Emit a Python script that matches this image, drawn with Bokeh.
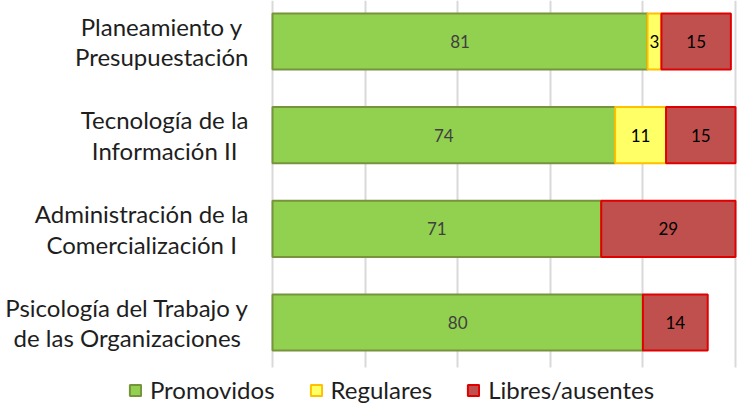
import subprocess
from bokeh.plotting import figure
from bokeh.models import Range1d, ColumnDataSource, Legend, LegendItem, FixedTicker, Grid
from bokeh.embed import file_html
from bokeh.resources import INLINE
from bokeh.core.properties import value

categories = ["Planeamiento y\nPresupuestación",
              "Tecnología de la\nInformación II",
              "Administración de la\nComercialización I",
              "Psicología del Trabajo y\nde las Organizaciones"]
promovidos = [81, 74, 71, 80]
regulares = [3, 11, 0, 0]
libres = [15, 15, 29, 14]
series_names = ["Promovidos", "Regulares", "Libres/ausentes"]
x_ticks = [0, 20, 40, 60, 80, 100]

FONT = "Lato"
CAT_SIZE = 24
LEG_SIZE = 24
VAL_SIZE = 17

W, H = 737, 404
X0 = 272          # pixel of value 0
XS = 4.63         # px per unit
YS = 93.67        # px per category
TOP_C = 41        # px of first category centre
GRID_BOTTOM = 367


def text_width(s, size, family):
    try:
        from PIL import ImageFont
        path = subprocess.run(["fc-match", "-f", "%{file}", family],
                              capture_output=True, text=True).stdout.strip()
        f = ImageFont.truetype(path, size)
        return max(f.getlength(line) for line in s.split("\n"))
    except Exception:
        return max(len(line) for line in s.split("\n")) * size * 0.5


n = len(categories)
ypos = [n - 1 - i for i in range(n)]
y_top = n - 1 + TOP_C / YS
y_bot = y_top - H / YS

p = figure(width=W, height=H, output_backend="svg", toolbar_location=None,
           x_range=Range1d(-X0 / XS, (W - X0) / XS), y_range=Range1d(y_bot, y_top),
           min_border=0)
p.outline_line_color = None
p.xaxis.visible = False
p.yaxis.visible = False
p.xgrid.visible = False
p.ygrid.visible = False

grid = Grid(dimension=0, ticker=FixedTicker(ticks=x_ticks),
            grid_line_color="#d9d9d9", grid_line_width=2)
grid_y0 = y_top - GRID_BOTTOM / YS
if "cross_bounds" in Grid.properties():
    grid.cross_bounds = (grid_y0, y_top)
    p.add_layout(grid)
else:
    p.segment(x0=x_ticks, x1=x_ticks, y0=[grid_y0] * len(x_ticks),
              y1=[y_top] * len(x_ticks), line_color="#d9d9d9", line_width=2)

# category labels (block right-aligned, lines centred)
offs = [-(24 + text_width(c, CAT_SIZE, FONT) / 2) for c in categories]
p.text(x=[0] * n, y=ypos, text=categories, x_offset=offs, text_align="center",
       text_baseline="middle", text_font=value(FONT),
       text_font_size=f"{CAT_SIZE}px", text_color="#1e1e1e", text_line_height=1.05)

fills = ["#92d050", "#ffff66", "#c0504d"]
lines = ["#77933c", "#ffc000", "#e00000"]
label_colors = ["#404040", "#000000", "#000000"]
series = [promovidos, regulares, libres]

items = []
left = [0] * n
for name, vals, fc, lc, tc in zip(series_names, series, fills, lines, label_colors):
    rows = [i for i in range(n) if vals[i] > 0]
    src = ColumnDataSource(dict(
        y=[ypos[i] for i in rows],
        left=[left[i] for i in rows],
        right=[left[i] + vals[i] for i in rows],
        mid=[left[i] + vals[i] / 2 for i in rows],
        txt=[str(vals[i]) for i in rows],
    ))
    r = p.hbar(y="y", left="left", right="right", height=0.6, source=src,
               fill_color=fc, line_color=lc, line_width=2)
    p.text(x="mid", y="y", text="txt", source=src, text_align="center",
           text_baseline="middle", text_font=value(FONT),
           text_font_size=f"{VAL_SIZE}px", text_color=tc)
    items.append(LegendItem(label=name, renderers=[r]))
    left = [left[i] + vals[i] for i in range(n)]

GLYPH, STANDOFF, SPACING = 14, 8, 34
leg_w = sum(GLYPH + STANDOFF + text_width(s, LEG_SIZE, FONT) for s in series_names) \
    + SPACING * (len(series_names) - 1)
leg_x = 391 - leg_w / 2
legend = Legend(items=items, orientation="horizontal", location=(leg_x, 0),
                glyph_width=GLYPH, glyph_height=GLYPH, label_text_font=FONT,
                label_text_font_size=f"{LEG_SIZE}px", label_standoff=STANDOFF,
                spacing=SPACING, padding=0, margin=0, border_line_color=None,
                background_fill_alpha=0, label_text_color="#1e1e1e")
p.add_layout(legend, "center")

open("out.html", "w").write(file_html(p, INLINE))
